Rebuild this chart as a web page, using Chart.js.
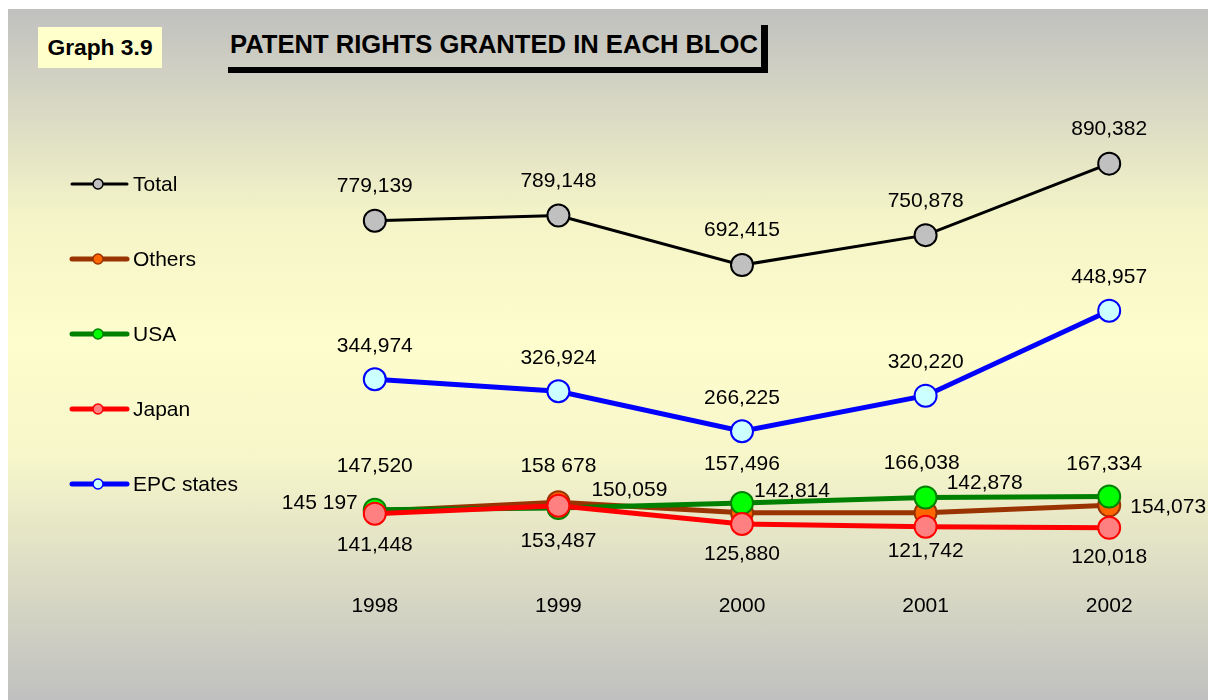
<!DOCTYPE html>
<html><head><meta charset="utf-8">
<script src="https://cdn.jsdelivr.net/npm/chart.js@4/dist/chart.umd.min.js"></script>
<style>
html,body{margin:0;padding:0;background:#fff;width:1208px;height:700px;overflow:hidden;font-family:"Liberation Sans",Arial,sans-serif;}
#panel{position:absolute;left:8px;top:9px;width:1200px;height:691px;background:linear-gradient(to bottom,#c0c0c0 0%,#f4f4c8 30%,#fdfdcd 48%,#f6f6ca 65%,#c0c0c0 100%);}
#tag{position:absolute;left:38px;top:27px;width:124px;height:41px;background:#ffffcc;font-weight:bold;font-size:22.8px;line-height:41px;text-align:center;color:#000;}
#title{position:absolute;left:230px;top:28px;font-weight:bold;font-size:25.6px;line-height:32px;color:#000;white-space:nowrap;}
#hbar{position:absolute;left:228px;top:67px;width:540px;height:6px;background:#000;}
#vbar{position:absolute;left:761px;top:25px;width:7px;height:48px;background:#000;}
canvas{position:absolute;left:0;top:0;}
</style></head><body>
<div id="panel"></div>
<div id="tag">Graph 3.9</div>
<div id="title">PATENT RIGHTS GRANTED IN EACH BLOC</div>
<div id="hbar"></div>
<div id="vbar"></div>
<canvas id="c" width="1208" height="700"></canvas>
<script>
const years = ['1998', '1999', '2000', '2001', '2002'];
const totalVals = [779139, 789148, 692415, 750878, 890382];
const epcVals = [344974, 326924, 266225, 320220, 448957];
const usaVals = [147520, 150059, 157496, 166038, 167334];
const othersVals = [145197, 158678, 142814, 142878, 154073];
const japanVals = [141448, 153487, 125880, 121742, 120018];
const othersSeps = [' ', ' ', ',', ',', ','];

function fmt(v, sep) {
  const s = String(v);
  return s.slice(0, s.length - 3) + sep + s.slice(s.length - 3);
}

const FONT = '"Liberation Sans", Arial, sans-serif';

const labelPlugin = {
  id: 'pointLabels',
  afterDatasetsDraw(chart) {
    const ctx = chart.ctx;
    ctx.save();
    ctx.font = '21px ' + FONT;
    ctx.fillStyle = '#000';
    ctx.textAlign = 'center';
    ctx.textBaseline = 'middle';
    chart.data.datasets.forEach((ds, i) => {
      const meta = chart.getDatasetMeta(i);
      meta.data.forEach((pt, j) => {
        const off = ds.labelOffsets[j];
        const sep = ds.labelSeps ? ds.labelSeps[j] : ',';
        ctx.fillText(fmt(ds.data[j], sep), pt.x + off[0], pt.y + off[1]);
      });
    });
    ctx.restore();
  }
};

const legendPlugin = {
  id: 'sideLegend',
  afterDraw(chart) {
    const ctx = chart.ctx;
    ctx.save();
    chart.data.datasets.forEach((ds, i) => {
      const y = 184 + i * 75;
      ctx.strokeStyle = ds.borderColor;
      ctx.lineWidth = ds.borderWidth;
      ctx.lineCap = 'round';
      ctx.beginPath();
      ctx.moveTo(72, y); ctx.lineTo(127, y);
      ctx.stroke();
      ctx.beginPath();
      ctx.arc(98, y, 5, 0, Math.PI * 2);
      ctx.fillStyle = ds.pointBackgroundColor;
      ctx.fill();
      ctx.lineWidth = 1.5;
      ctx.strokeStyle = ds.pointBorderColor;
      ctx.stroke();
      ctx.fillStyle = '#000';
      ctx.font = '21px ' + FONT;
      ctx.textAlign = 'left';
      ctx.textBaseline = 'middle';
      ctx.fillText(ds.label, 133, y + 1);
    });
    ctx.restore();
  }
};

const common = { tension: 0, pointRadius: 11, pointHoverRadius: 11, pointBorderWidth: 2, fill: false, clip: false };

new Chart(document.getElementById('c'), {
  type: 'line',
  data: {
    labels: years,
    datasets: [
      Object.assign({}, common, {
        label: 'Total', data: totalVals, yAxisID: 'y2', order: 4,
        borderColor: '#000000', borderWidth: 3,
        pointBackgroundColor: '#c0c0c0', pointBorderColor: '#000000',
        labelOffsets: [[0, -34], [0, -34], [0, -35], [0, -34], [0, -34]]
      }),
      Object.assign({}, common, {
        label: 'Others', data: othersVals, yAxisID: 'y', order: 2,
        borderColor: '#993300', borderWidth: 5,
        pointBackgroundColor: '#ff6600', pointBorderColor: '#993300',
        labelSeps: othersSeps,
        labelOffsets: [[-55, -8], [0, -36], [50, -22], [59, -30], [59, 2]]
      }),
      Object.assign({}, common, {
        label: 'USA', data: usaVals, yAxisID: 'y', order: 1,
        borderColor: '#008000', borderWidth: 5,
        pointBackgroundColor: '#00ff00', pointBorderColor: '#008000',
        labelOffsets: [[0, -43], [71, -18], [0, -39], [-4, -34], [-5, -32]]
      }),
      Object.assign({}, common, {
        label: 'Japan', data: japanVals, yAxisID: 'y', order: 0,
        borderColor: '#ff0000', borderWidth: 5,
        pointBackgroundColor: '#ff8080', pointBorderColor: '#ff0000',
        labelOffsets: [[0, 32], [0, 35], [0, 30], [0, 25], [0, 29]]
      }),
      Object.assign({}, common, {
        label: 'EPC states', data: epcVals, yAxisID: 'y', order: 3,
        borderColor: '#0000ff', borderWidth: 5,
        pointBackgroundColor: '#ccffff', pointBorderColor: '#0000ff',
        labelOffsets: [[0, -33], [0, -33], [0, -33], [0, -33], [0, -33]]
      })
    ]
  },
  options: {
    responsive: false,
    animation: false,
    devicePixelRatio: 1,
    layout: { autoPadding: false, padding: { left: 283, right: 7, top: 100, bottom: 0 } },
    plugins: { legend: { display: false }, tooltip: { enabled: false } },
    scales: {
      x: {
        type: 'category', offset: true,
        grid: { display: false, drawTicks: false }, border: { display: false },
        ticks: { color: '#000', font: { family: FONT, size: 21 }, padding: 14 },
        afterFit: (s) => { s.height = 120; }
      },
      y: { display: false, min: 41000, max: 768000 },
      y2: { display: false, min: 78040, max: 1014520 }
    }
  },
  plugins: [labelPlugin, legendPlugin]
});
</script>
</body></html>
